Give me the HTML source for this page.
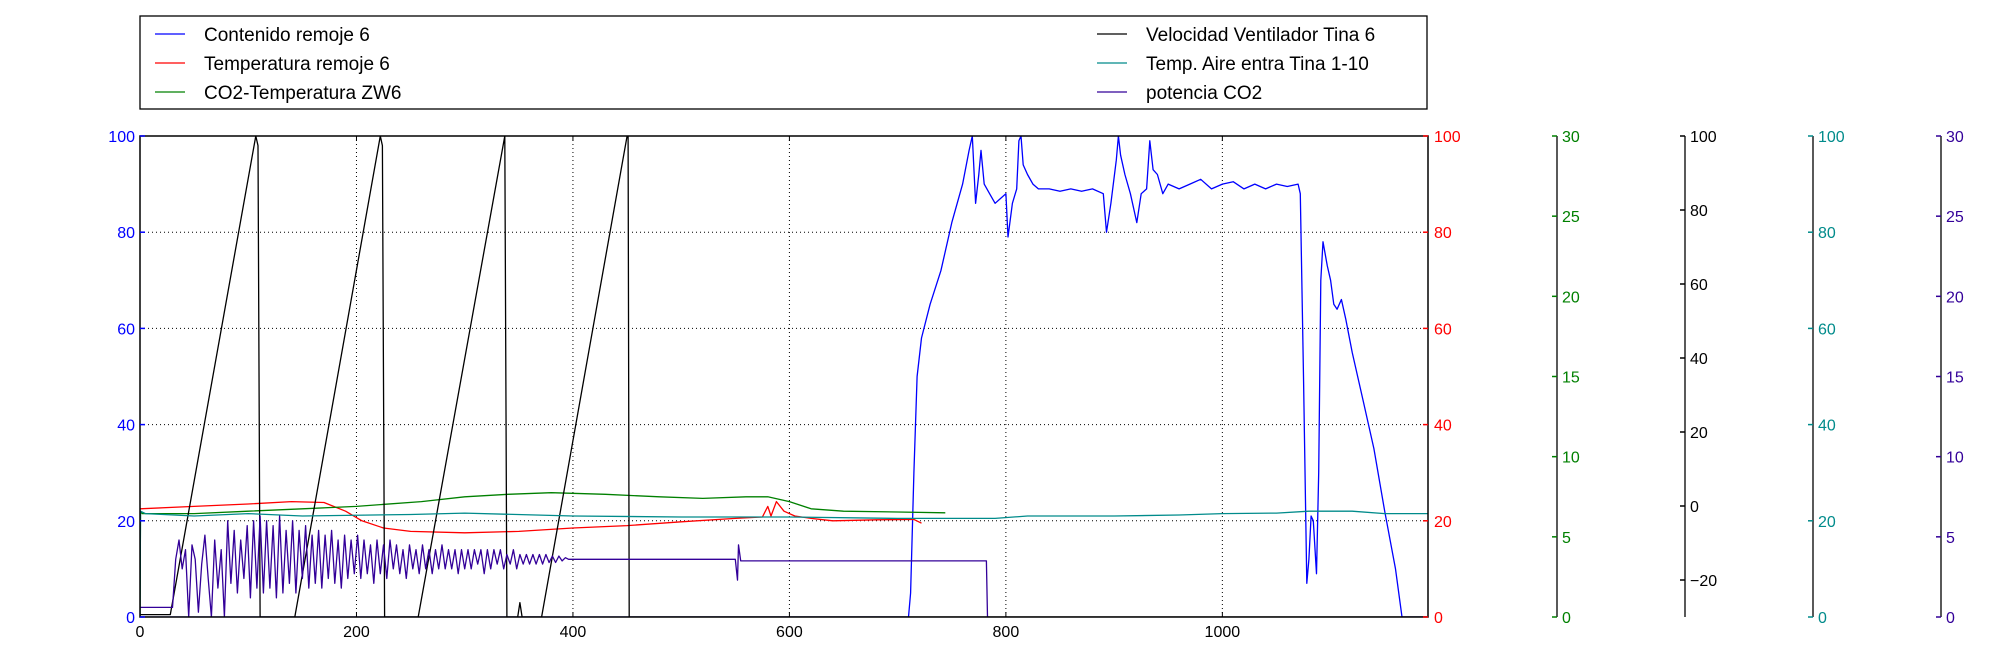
<!DOCTYPE html>
<html><head><meta charset="utf-8"><style>
body{margin:0;background:#fff;}
svg{display:block;font-family:"Liberation Sans","DejaVu Sans",sans-serif;}
</style></head><body>
<svg id="chart" width="2011" height="650" viewBox="0 0 2011 650"></svg>
<script>
// ---- data ----
const blueX=[0,700,710,712,715,718,722,730,740,750,760,766,769,772,775,777,780,785,790,795,800,802,806,810,812,814,816,820,825,830,840,850,860,870,880,890,893,897,902,904,906,910,915,921,925,930,933,936,940,945,950,960,970,980,990,1000,1010,1020,1030,1040,1050,1060,1070,1072,1075,1078,1080,1082,1084,1087,1089,1091,1093,1097,1100,1103,1106,1110,1114,1120,1130,1140,1150,1160,1166,1190];
const blueY=[0,0,0,5,30,50,58,65,72,82,90,97,100,86,92,97,90,88,86,87,88,79,86,89,99,100,94,92,90,89,89,88.5,89,88.5,89,88,80,86,95,100,96,92,88,82,88,89,99,93,92,88,90,89,90,91,89,90,90.5,89,90,89,90,89.5,90,88,50,7,12,21,20,9,30,70,78,73,70,65,64,66,62,55,45,35,22,10,0,0];
const redX=[0,50,100,140,170,190,205,225,250,300,350,400,450,500,550,575,580,583,588,595,605,620,640,680,715,722];
const redY=[22.5,23,23.5,24,23.8,22,20,18.5,17.8,17.5,17.8,18.5,19,19.8,20.5,20.8,23,21,24,22,21,20.5,20,20.2,20.3,19.5];
const greenX=[0,0.5,2,50,100,150,200,260,300,340,380,430,480,520,560,580,600,620,650,700,744];
const greenY=[0,6.6,6.45,6.45,6.6,6.75,6.9,7.2,7.5,7.65,7.75,7.65,7.5,7.4,7.5,7.5,7.2,6.75,6.6,6.55,6.5];
const blackX=[0,28,107,109,111,143,222,224,226,257,337,339,349,351,353,371,450,451,452,1190];
const blackY=[0.5,0.5,100,98,0,0,100,98,0,0,100,0,0,3,0,0,100,100,0,0];
const tealX=[0,0.5,5,50,100,150,250,300,400,500,600,700,790,820,900,960,1000,1050,1080,1120,1150,1190];
const tealY=[0,22,21.5,21,21.5,21,21.3,21.6,21,20.8,20.8,20.5,20.5,21,21,21.2,21.5,21.6,22,22,21.5,21.5];
const purpleNoise=[0.6,3.6,4.8,3,4.2,0,4.5,3.6,0.3,3.3,5.1,2.4,0,4.8,1.8,4.2,0,6,2.1,5.4,1.5,4.8,2.4,5.7,1.2,6,1.8,6.3,1.5,6,1.8,5.7,1.2,6.3,1.5,5.4,2.1,6,1.5,5.4,2.4,5.7,1.8,5.1,2.1,5.4,1.8,5.1,2.4,5.4,2.1,4.8,1.8,5.1,2.4,4.8,2.7,5.1,2.4,4.8,2.7,4.5,2.1,4.8,2.7,4.5,2.4,4.8,3,4.5,2.7,4.2,2.4,4.5,3,4.2,2.7,4.5,3,4.2,2.7,4.2,3,4.5,3,4.2,3,4.2,2.7,4.2,3,4.2,3,4.2,3.3,4.2,2.7,4.2,3,4.2,3.3,4.2,3,3.9,3.3,4.2,3,3.9,3.3,3.9,3.3,3.9,3.3,3.9,3.3,3.9,3.4,3.8,3.4,3.8,3.5,3.7,3.6];
const purpleTailX=[400,500,550,552,553,555,600,700,780,782,783,784];
const purpleTailY=[3.6,3.6,3.6,2.3,4.5,3.5,3.5,3.5,3.5,3.5,0,0];
const xTicks=[0,200,400,600,800,1000];
const leftTicks=[0,20,40,60,80,100];
const greenTicks=[0,5,10,15,20,25,30];
const blackTicks=[-20,0,20,40,60,80,100];
// ---- geometry ----
const L=140,R=1428,T=136,B=617;
const X=v=>L+(v/1190)*(R-L);
const YL=v=>B-(v/100)*(B-T);
const Y30=v=>B-(v/30)*(B-T);
const YB=v=>B-((v+30)/130)*(B-T);
const svg=document.getElementById('chart');
const NS='http://www.w3.org/2000/svg';
function mk(tag,attrs,parent){const e=document.createElementNS(NS,tag);for(const k in attrs)e.setAttribute(k,attrs[k]);(parent||svg).appendChild(e);return e;}
function txt(x,y,s,fill,anchor,size){const t=mk('text',{x:x,y:y,fill:fill,'font-size':size||16,'text-anchor':anchor||'start'});t.textContent=s;return t;}
// grid
const grid=mk('g',{});


xTicks.slice(1).forEach(v=>mk('line',{x1:X(v),x2:X(v),y1:T,y2:B,stroke:'#000','stroke-width':1,'stroke-dasharray':'1,3'},grid));
leftTicks.slice(1,-1).forEach(v=>mk('line',{x1:L,x2:R,y1:YL(v),y2:YL(v),stroke:'#000','stroke-width':1,'stroke-dasharray':'1,3'},grid));
// series
function line(xs,ys,yf,color,name){const p=mk('polyline',{points:xs.map((x,i)=>X(x).toFixed(1)+','+yf(ys[i]).toFixed(1)).join(' '),fill:'none',stroke:color,'stroke-width':1.3,'stroke-linejoin':'round'});


return p;}
const clip=mk('clipPath',{id:'pc'});mk('rect',{x:L,y:T,width:R-L,height:B-T},clip);
const sg=mk('g',{'clip-path':'url(#pc)'});
line(blueX,blueY,YL,'#0000ff','series-contenido-remoje');
line(redX,redY,YL,'#ff0000','series-temperatura-remoje');
line(greenX,greenY,Y30,'#008000','series-co2-temperatura');
line(blackX,blackY,YL,'#000000','series-velocidad-ventilador');
line(tealX,tealY,YL,'#008b8b','series-temp-aire');
const pX=[0,28].concat(purpleNoise.map((v,i)=>30+3*i)).concat(purpleTailX);
const pY=[0.6,0.6].concat(purpleNoise).concat(purpleTailY);
line(pX,pY,Y30,'#330099','series-potencia-co2');
Array.from(svg.querySelectorAll('polyline')).forEach(p=>sg.appendChild(p));
// frame
mk('rect',{x:L,y:T,width:R-L,height:B-T,fill:'none',stroke:'#000','stroke-width':1.5});
// x ticks
xTicks.forEach(v=>{mk('line',{x1:X(v),x2:X(v),y1:B,y2:B-5,stroke:'#000'});mk('line',{x1:X(v),x2:X(v),y1:T,y2:T+5,stroke:'#000'});
const t=txt(X(v),B+20,String(v),'#000','middle');

});
// left / right ticks
leftTicks.forEach(v=>{mk('line',{x1:L,x2:L+5,y1:YL(v),y2:YL(v),stroke:'#0000ff','stroke-width':1.5});
const a=txt(L-5,YL(v)+6,String(v),'#0000ff','end');


mk('line',{x1:R-5,x2:R,y1:YL(v),y2:YL(v),stroke:'#ff0000','stroke-width':1.5});
const b=txt(R+6,YL(v)+6,String(v),'#ff0000','start');

});
// extra axes
function extraAxis(x,ticks,yf,color,name){const g=mk('g',{});


mk('line',{x1:x,x2:x,y1:T,y2:B,stroke:'#000','stroke-width':1.3},g);
ticks.forEach(v=>{mk('line',{x1:x-5,x2:x,y1:yf(v),y2:yf(v),stroke:color,'stroke-width':1.5},g);
const t=txt(x+5,yf(v)+6,String(v).replace('-','\u2212'),color,'start');g.appendChild(t);});}
extraAxis(1557,greenTicks,Y30,'#008000','co2-temp-axis');
extraAxis(1685,blackTicks,YB,'#000000','ventilador-axis');
extraAxis(1813,leftTicks,YL,'#008b8b','aire-axis');
extraAxis(1941,greenTicks,Y30,'#330099','potencia-axis');
// legend
const lg=mk('g',{});


mk('rect',{x:140,y:16,width:1287,height:93,fill:'#fff',stroke:'#000','stroke-width':1.3},lg);
const legNames=['Contenido remoje 6','Temperatura remoje 6','CO2-Temperatura ZW6','Velocidad Ventilador Tina 6','Temp. Aire entra Tina 1-10','potencia CO2'];
const legColors=['#0000ff','#ff0000','#008000','#000000','#008b8b','#330099'];
legNames.forEach((n,i)=>{const col=i<3?0:1,row=i%3;const x0=col?1097:155,y0=34+row*29;
const e=mk('g',{},lg);


mk('line',{x1:x0,x2:x0+30,y1:y0,y2:y0,stroke:legColors[i],'stroke-width':1.3},e);
const t=txt(x0+49,y0+7,n,'#000','start',19);e.appendChild(t);});
</script>
</body></html>
